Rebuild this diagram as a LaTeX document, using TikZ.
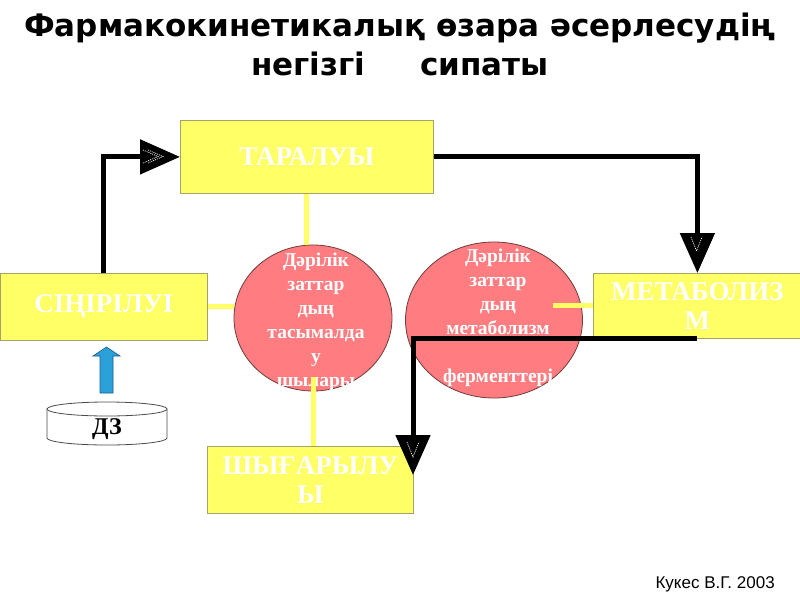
\documentclass[tikz,border=0pt]{standalone}
\usepackage{fontspec}
\setmainfont{Liberation Serif}
\newfontfamily\titlefont{DejaVu Sans}
\newfontfamily\authorfont{Liberation Sans}
\usetikzlibrary{arrows.meta,calc,shapes.geometric}
\definecolor{boxyellow}{HTML}{FFFF66}
\definecolor{boxedge}{HTML}{A3A36B}
\definecolor{ellpink}{HTML}{FF7C80}
\definecolor{elledge}{HTML}{6E3B3B}
\definecolor{arrowblue}{HTML}{2AA1D8}
\definecolor{arrowedge}{HTML}{1F5C8A}
\begin{document}
\begin{tikzpicture}[x=1pt,y=-1pt,
  box/.style={draw=boxedge, line width=0.8pt, fill=boxyellow, text=white, font=\bfseries\fontsize{27}{29}\selectfont, align=center, inner sep=0pt, anchor=north west},
  ell/.style={ellipse, draw=elledge, line width=0.8pt, fill=ellpink, inner sep=0pt},
  elltext/.style={text=white, font=\bfseries\fontsize{19.5}{24}\selectfont, align=center, inner sep=0pt},
  yl/.style={draw=boxyellow, line width=5pt},
  conn/.style={draw=black, line width=5pt, -{Triangle[length=40pt,width=34pt]}},
  vmark/.style={draw=white, line width=0.7pt, dash pattern=on 1pt off 1pt},
  titlestyle/.style={font=\titlefont\bfseries\fontsize{31}{36}\selectfont, anchor=base},
]
\useasboundingbox (0,0) rectangle (800,600);
\fill[white] (0,0) rectangle (800,600);

% title
\node[titlestyle] (title1) at (400,36) {Фармакокинетикалық өзара әсерлесудің};
\node[titlestyle] (title2) at (400,75) {негізгі\hspace{55pt}сипаты};

% boxes
\node[box, minimum width=253, minimum height=73] (tar) at (180,120) {ТАРАЛУЫ};
\node[box, minimum width=207, minimum height=67] (sin) at (0,273) {СІҢІРІЛУІ};
\node[box, minimum width=208, minimum height=65] (met) at (593,273) {МЕТАБОЛИЗ\\М};
\node[box, minimum width=206, minimum height=67] (shy) at (207,446) {ШЫҒАРЫЛУ\\Ы};

% ellipses
\node[ell, minimum width=158, minimum height=146] (e1) at (313,318) {};
\node[ell, minimum width=177, minimum height=156] (e2) at (494,320) {};
\begin{scope}
\clip (313,318) ellipse [x radius=79, y radius=73];
\node[elltext] (t1) at (316,322) {Дәрілік\\заттар\\дың\\тасымалда\\у\\шылары};
\end{scope}
\begin{scope}
\clip (494,320) ellipse [x radius=88.5, y radius=78];
\node[elltext] (t2) at (498,318) {Дәрілік\\заттар\\дың\\метаболизм\\\mbox{}\\ферменттері};
\end{scope}

% yellow links
\draw[yl] (tar.south) -- (tar.south |- e1.north);
\draw[yl] (sin.east) -- (sin.east -| e1.west);
\draw[yl] ($(e1.south)+(0,-14)$) -- (e1.south |- shy.north);
\draw[yl] (met.west) -- ++(-40,0);

% black connectors
\draw[conn] (sin.north) |- (tar.west);
\draw[conn] (tar.east) -| (met.north);
\coordinate (shyend) at (413,475);
\draw[conn] (met.south) -| (shyend);

% white marks inside arrowheads
\draw[vmark] (143,150) -- (158,156.5) -- (143,163);
\draw[vmark] (148,150) -- (163,156.5) -- (148,163);
\draw[vmark] (691,237) -- (696.5,251) -- (702,237);
\draw[vmark] (407,442) -- (413,457) -- (419,442);

% blue arrow
\draw[fill=arrowblue, draw=arrowedge, line width=0.6pt] (100,393) -- (100,356) -- (93,356) -- (106.5,347) -- (120,356) -- (113,356) -- (113,393) -- cycle;

% cylinder
\draw[fill=white, draw=black!70, line width=0.8pt] (47,409) -- (47,438) arc[start angle=180, end angle=0, x radius=60, y radius=7] -- (167,409);
\draw[fill=white, draw=black!70, line width=0.8pt] (107,409) ellipse [x radius=60, y radius=7];
\node[font=\bfseries\fontsize{24}{26}\selectfont] (dz) at (107,429) {ДЗ};

% author
\node[font=\authorfont\fontsize{17}{20}\selectfont, anchor=base west] (author) at (652,588) {Кукес В.Г. 2003};
\end{tikzpicture}
\end{document}
